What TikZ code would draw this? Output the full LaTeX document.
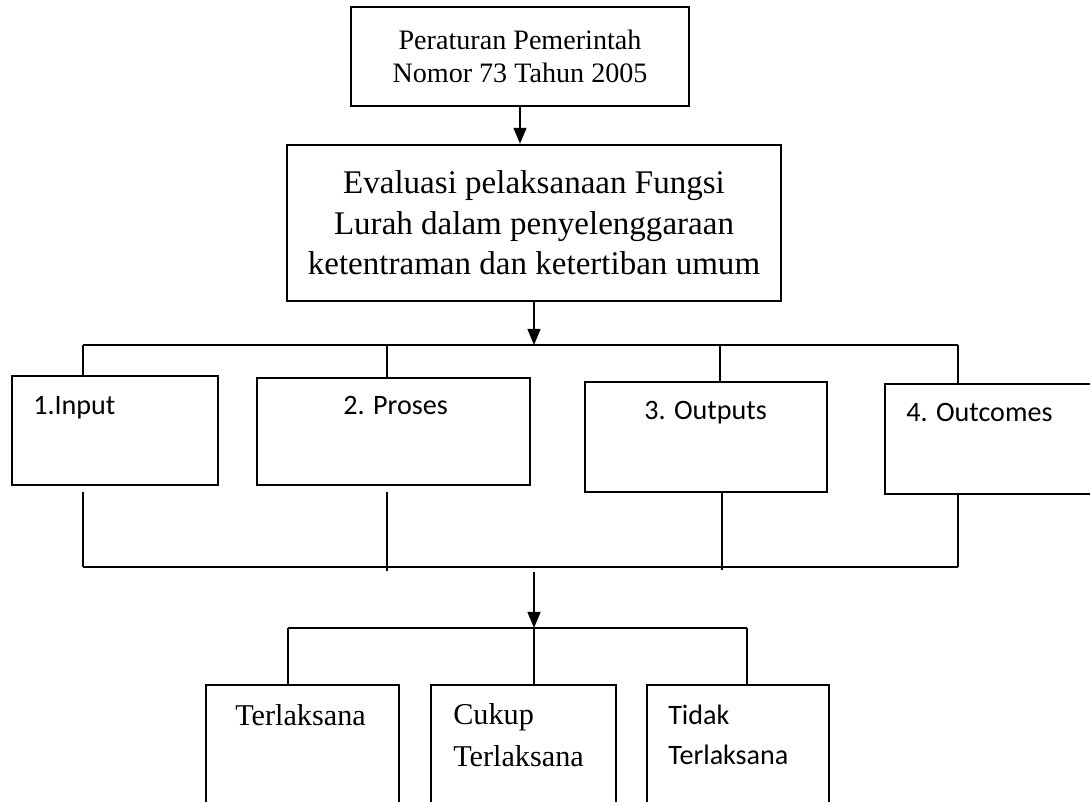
\documentclass[tikz,border=0pt]{standalone}
\usepackage{fontspec}
\setmainfont{Liberation Serif}
\newfontfamily\calibri{Carlito}
\usetikzlibrary{arrows.meta}
\tikzset{flow box/.style={draw, line width=0.5mm, inner sep=0pt}}
\tikzset{flow text/.style={inner sep=0pt, anchor=base west}}
\tikzset{flow line/.style={line width=0.5mm}}
\tikzset{flow arrow/.style={line width=0.5mm, -{Triangle[length=4mm, width=3.2mm]}}}

\begin{document}
\begin{tikzpicture}[x=1mm, y=1mm]
\useasboundingbox (0,0) rectangle (272.5,200.5);

% top of the chart
\node[flow box, minimum width=84.5mm, minimum height=24.75mm, align=center, font=\fontsize{20}{24}\selectfont] (peraturan) at (130,186.4) {Peraturan Pemerintah\\Nomor 73 Tahun 2005};
\node[flow box, minimum width=123.5mm, minimum height=39mm, align=center, font=\fontsize{23.5}{28.6}\selectfont] (evaluasi) at (133.5,144.8) {Evaluasi pelaksanaan Fungsi\\Lurah dalam penyelenggaraan\\ketentraman dan ketertiban umum};
\draw[flow arrow] (peraturan.south) -- (peraturan.south |- evaluasi.north);

%\foreach \x in {20.75, 96.75, 180.5, 239.5}
%	\draw (\x,114.25) -- (\x,58.75);

\coordinate (t1) at (20.75,114.25);
\coordinate (t2) at (96.75,114.25);
\coordinate (t3) at (180,114.25);
\coordinate (t4) at (239.5,114.25);
\coordinate (b1) at (20.75,58.75);
\coordinate (b2) at (96.75,58.75);
\coordinate (b3) at (180.5,58.75);
\coordinate (b4) at (239.5,58.75);

\node[flow box, minimum width=51.5mm, minimum height=27.25mm] (input) at (28.75,92.875) {};
\node[flow text, font=\calibri\fontsize{20}{24}\selectfont] (input text) at (8.25,96.75) {1.Input};
\node[flow box, minimum width=68.25mm, minimum height=26.75mm] (proses) at (98.375,92.625) {};
\node[flow text, font=\calibri\fontsize{20}{24}\selectfont] (proses text) at (85.75,96.75) {2. Proses};
\node[flow box, minimum width=60.5mm, minimum height=27.5mm] (outputs) at (176.5,91.25) {};
\node[flow text, font=\calibri\fontsize{20}{24}\selectfont] (outputs text) at (161,95.5) {3. Outputs};
\node[flow box, minimum width=58.75mm, minimum height=27.5mm] (outcomes) at (250.625,90.75) {};
\node[flow text, font=\calibri\fontsize{20}{24}\selectfont] (outcomes text) at (226.5,95) {4. Outcomes};

\draw[flow arrow] (evaluasi.south) -- (evaluasi.south |- t1);
\draw[flow line] (t1) -- (t4);
\draw[flow line] (t1) -- (t1 |- input.north);
\draw[flow line] (t2) -- (t2 |- proses.north);
\draw[flow line] (t3) -- (t3 |- outputs.north);
\draw[flow line] (t4) -- (t4 |- outcomes.north);

\draw[flow line] ([yshift=-1.5mm]input.south -| b1) -- (b1);
\draw[flow line] ([yshift=-1.5mm]proses.south -| b2) -- ([yshift=-1mm]b2);
\draw[flow line] (outputs.south -| b3) -- ([yshift=-0.75mm]b3);
\draw[flow line] (outcomes.south -| b4) -- (b4);
\draw[flow line] (b1) -- (b4);

% result
\coordinate (merge) at (133.5,58.75);
\coordinate (split) at (133.5,43.5);
\coordinate (m1) at (72,43.5);
\coordinate (m3) at (186.75,43.5);
\draw[flow arrow] ([yshift=-1.25mm]merge) -- (split);
\draw[flow line] (m1) -- (m3);

\node[flow box, minimum width=48.25mm, minimum height=36.25mm] (terlaksana) at (75.625,11.125) {};
\node[flow text, font=\fontsize{21.5}{30}\selectfont] (terlaksana text) at (58.75,19) {Terlaksana};
\node[flow box, minimum width=46.25mm, minimum height=36.25mm] (cukup) at (130.875,11.125) {};
\node[flow text, font=\fontsize{21.5}{30}\selectfont, align=left] (cukup text) at (113.25,8.75) {Cukup\\Terlaksana};
\node[flow box, minimum width=45.5mm, minimum height=36.25mm] (tidak) at (184.5,11.125) {};
\node[flow text, font=\calibri\fontsize{20}{29}\selectfont, align=left] (tidak text) at (167,9.25) {Tidak\\Terlaksana};

\draw[flow line] (m1) -- (m1 |- terlaksana.north);
\draw[flow line] (split) -- (split |- cukup.north);
\draw[flow line] (m3) -- (m3 |- tidak.north);

\end{tikzpicture}
\end{document}
